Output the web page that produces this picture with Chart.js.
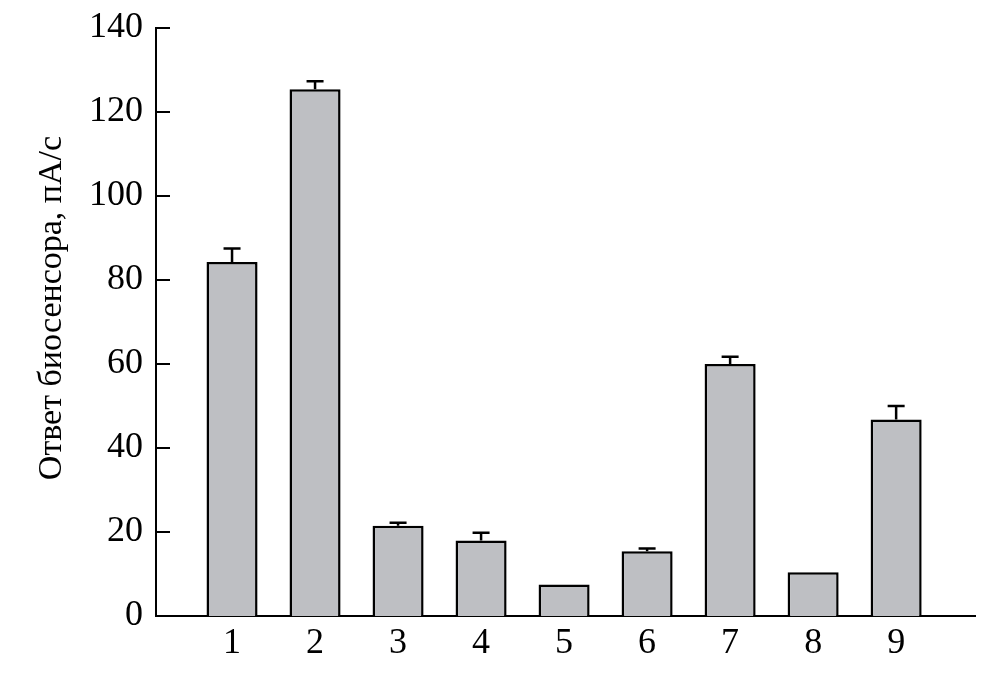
<!DOCTYPE html>
<html>
<head>
<meta charset="utf-8">
<script src="https://cdn.jsdelivr.net/npm/chart.js@4/dist/chart.umd.min.js"></script>
<style>
  body { margin: 0; background: #fff; }
</style>
</head>
<body>
<canvas id="chart" width="989" height="674"></canvas>
<script>
// -------- Data ----------
const categories = ["1", "2", "3", "4", "5", "6", "7", "8", "9"];
const responses = [84.3, 125.4, 21.5, 18.0, 7.5, 15.4, 60.0, 10.4, 46.8];
const errorTops = [87.5, 127.3, 22.2, 19.8, 0, 16.1, 61.7, 0, 50.0];
const yTicks = [0, 20, 40, 60, 80, 100, 120, 140];
const yTitle = "Ответ биосенсора, пА/с";

const serif = "'Liberation Serif', 'Times New Roman', serif";

// inward tick marks on the y axis + rotated y title
const axisExtras = {
  id: "axisExtras",
  afterDraw(chart) {
    const { ctx, scales: { y } } = chart;
    ctx.save();
    ctx.strokeStyle = "#000";
    ctx.lineWidth = 2;
    yTicks.forEach(v => {
      if (v === 0) return;
      const py = y.getPixelForValue(v);
      ctx.beginPath();
      ctx.moveTo(y.right, py);
      ctx.lineTo(y.right + 14, py);
      ctx.stroke();
    });
    // title sits a little above the axis middle in the original
    ctx.translate(52, (y.top + y.bottom) / 2 - 14);
    ctx.rotate(-Math.PI / 2);
    ctx.fillStyle = "#000";
    ctx.font = "34px " + serif;
    ctx.textAlign = "center";
    ctx.textBaseline = "middle";
    ctx.fillText(yTitle, 0, 0);
    ctx.restore();
  }
};

// upper error bars
const errorBars = {
  id: "errorBars",
  afterDatasetsDraw(chart) {
    const { ctx, scales: { y } } = chart;
    const meta = chart.getDatasetMeta(0);
    ctx.save();
    ctx.strokeStyle = "#000";
    ctx.lineWidth = 2.5;
    meta.data.forEach((bar, i) => {
      if (!errorTops[i]) return;
      const top = y.getPixelForValue(errorTops[i]);
      ctx.beginPath();
      ctx.moveTo(bar.x, bar.y);
      ctx.lineTo(bar.x, top);
      ctx.moveTo(bar.x - 8.5, top);
      ctx.lineTo(bar.x + 8.5, top);
      ctx.stroke();
    });
    ctx.restore();
  }
};

new Chart(document.getElementById("chart"), {
  type: "bar",
  data: {
    datasets: [{
      data: responses.map((v, i) => ({ x: i + 1, y: v })),
      backgroundColor: "#bebfc3",
      borderColor: "#000",
      borderWidth: 2.5,
      barPercentage: 0.615,
      categoryPercentage: 1
    }]
  },
  options: {
    responsive: false,
    animation: false,
    layout: { padding: { top: 28, right: 14, left: 0, bottom: 0 } },
    plugins: { legend: { display: false }, tooltip: { enabled: false } },
    scales: {
      x: {
        type: "linear",
        offset: false,
        min: 0.084,
        max: 9.95,
        afterBuildTicks: s => { s.ticks = categories.map((c, i) => ({ value: i + 1 })); },
        afterFit: s => { s.height = 58; s.paddingLeft = 0; s.paddingRight = 0; },
        grid: { display: false, drawTicks: false },
        border: { display: true, color: "#000", width: 2 },
        ticks: {
          padding: 6,
          color: "#000",
          font: { family: serif, size: 36 },
          callback: v => categories[Math.round(v) - 1] ?? ""
        }
      },
      y: {
        min: 0,
        max: 140,
        afterBuildTicks: s => { s.ticks = yTicks.map(v => ({ value: v })); },
        afterFit: s => { s.width = 156; s.paddingTop = 0; s.paddingBottom = 0; },
        grid: { display: false, drawTicks: false },
        border: { display: true, color: "#000", width: 2 },
        ticks: {
          padding: 13,
          color: "#000",
          font: { family: serif, size: 36 }
        }
      }
    }
  },
  plugins: [axisExtras, errorBars]
});
</script>
</body>
</html>
